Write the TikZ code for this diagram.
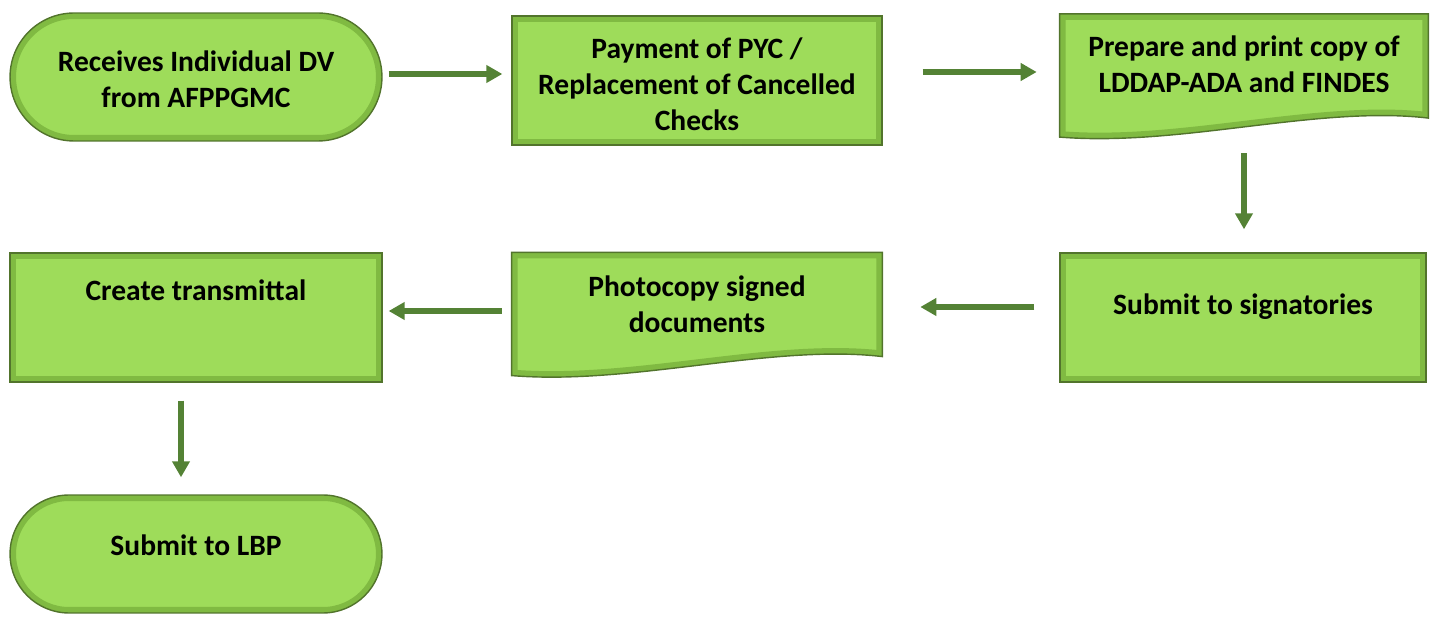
\documentclass[tikz,border=0pt]{standalone}
\usepackage{fontspec}
\setmainfont{Carlito}
\usetikzlibrary{arrows.meta, shapes.misc, positioning}
\definecolor{facegreen}{RGB}{158,220,90}
\definecolor{edgegreen}{RGB}{128,186,66}
\definecolor{rimgreen}{RGB}{82,116,44}
\definecolor{arrowgreen}{RGB}{84,130,53}

\begin{document}
\begin{tikzpicture}[x=0.02cm, y=-0.02cm,
  txt/.style={font=\bfseries\fontsize{16.8}{20.6}\selectfont, align=center},
  boxbase/.style={draw=rimgreen, line width=0.8pt, fill=facegreen, inner sep=0pt},
  procbox/.style={boxbase, rectangle, minimum width=#1, minimum height=2.58cm,
    path picture={\draw[edgegreen, line width=0.24cm]
      (path picture bounding box.south west) rectangle (path picture bounding box.north east);}},
  endbox/.style={boxbase, rounded rectangle, minimum width=7.44cm, minimum height=#1,
    path picture={\draw[edgegreen, line width=0.24cm, rounded corners=#1/2]
      (path picture bounding box.south west) rectangle (path picture bounding box.north east);}},
  docbox/.style={rectangle, inner sep=0pt, minimum width=#1, minimum height=2.45cm},
  wavy/.style={insert path={(#1.north west) -- (#1.north east) -- ([yshift=0.38cm]#1.south east)
    .. controls ([xshift=-2.2cm,yshift=0.64cm]#1.south east) and ([xshift=2.4cm,yshift=-0.2cm]#1.south west)
    .. (#1.south west) -- cycle}},
  flow/.style={arrowgreen, line width=3pt, -{Triangle[length=0.32cm,width=0.34cm]}},
]
  \useasboundingbox (0,0) rectangle (1437,617);
  % boxes
  \node[endbox=2.56cm] (b1) at (196,77) {};
  \node[procbox=7.4cm] (b2) at (697,80.5) {};
  \node[docbox=7.36cm] (b3) at (1244,75.5) {};
  \node[procbox=7.32cm] (b4) at (1243,317.5) {};
  \node[docbox=7.4cm] (b5) at (697,314) {};
  \node[procbox=7.44cm] (b6) at (196,317.5) {};
  \node[endbox=2.36cm] (b7) at (196,554) {};
  % wavy bottoms
  \foreach \d in {b3,b5} {
    \path[fill=facegreen, wavy=\d];
    \begin{scope}
      \clip[wavy=\d];
      \draw[edgegreen, line width=0.24cm, wavy=\d];
    \end{scope}
    \draw[rimgreen, line width=0.8pt, wavy=\d];
  }
  % texts
  \node[txt, yshift=-0.05cm] (t1) at (b1) {Receives Individual DV\\from AFPPGMC};
  \node[txt, yshift=-0.07cm] (t2) at (b2) {Payment of PYC /\\Replacement of Cancelled\\Checks};
  \node[txt, yshift=0.22cm] (t3) at (b3) {Prepare and print copy of\\LDDAP-ADA and FINDES};
  \node[txt, yshift=0.21cm] (t4) at (b4) {Submit to signatories};
  \node[txt, yshift=0.19cm] (t5) at (b5) {Photocopy signed\\documents};
  \node[txt, yshift=0.55cm] (t6) at (b6) {Create transmittal};
  \node[txt, yshift=0.18cm] (t7) at (b7) {Submit to LBP};
  % arrows
  \draw[flow, shorten <=0.12cm, shorten >=0.18cm] ([yshift=0.06cm]b1.east) -- ([yshift=0.06cm]b1.east -| b2.west);
  \draw[flow, shorten <=0.8cm, shorten >=0.46cm] ([yshift=0.17cm]b2.east) -- ([yshift=0.17cm]b2.east -| b3.west);
  \draw[flow, shorten <=0.32cm, shorten >=0.46cm] (b3.south) -- (b3.south |- b4.north);
  \draw[flow, shorten <=0.5cm, shorten >=0.76cm] ([yshift=0.21cm]b4.west) -- ([yshift=0.21cm]b4.west -| b5.east);
  \draw[flow, shorten <=0.2cm, shorten >=0.12cm] ([yshift=0.06cm]b5.west) -- ([yshift=0.06cm]b5.west -| b6.east);
  \draw[flow, shorten <=0.36cm, shorten >=0.34cm] ([xshift=-0.3cm]b6.south) -- ([xshift=-0.3cm]b6.south |- b7.north);
\end{tikzpicture}
\end{document}
